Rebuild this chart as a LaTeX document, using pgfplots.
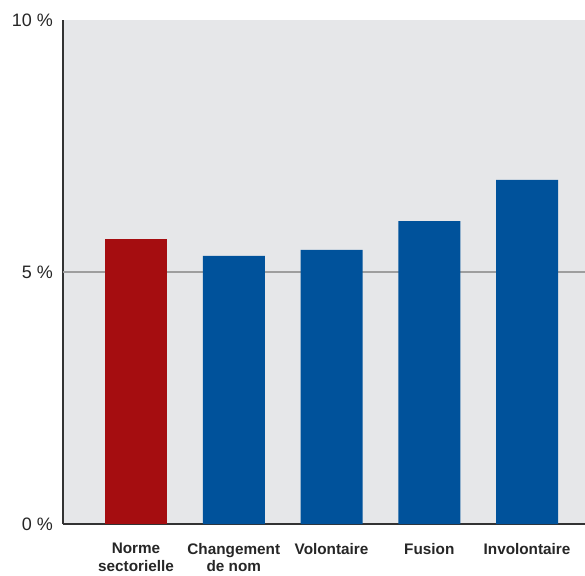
\documentclass[border=0pt]{standalone}
\usepackage{pgfplots}
\pgfplotsset{compat=1.18}
\usepackage{fontspec}
\setmainfont{Liberation Sans}
\definecolor{bg}{HTML}{E6E7E9}
\definecolor{barred}{HTML}{A50D10}
\definecolor{barblue}{HTML}{00529B}
\begin{document}
\begin{tikzpicture}
\begin{axis}[
  scale only axis, width=522pt, height=504pt,
  xmin=-0.747, xmax=4.593, ymin=0, ymax=10,
  axis background/.style={fill=bg},
  axis x line*=bottom, axis y line*=left,
  axis line style={draw=black!80, line width=1.5pt},
  ytick={0,5,10}, yticklabels={0 \%,5 \%,10 \%},
  extra y ticks={5}, extra y tick labels={},
  extra y tick style={grid=major, grid style={draw=black!38, line width=1.3pt}},
  major tick length=0pt,
  xtick={0,1,2,3,4},
  xticklabels={{Norme\\sectorielle},{Changement\\de nom},{Volontaire},{Fusion},{Involontaire}},
  xticklabel style={font=\bfseries\fontsize{15.3}{17.5}\selectfont, align=center, anchor=north, yshift=-15.5pt, text=black!85},
  yticklabel style={font=\fontsize{18}{20}\selectfont, inner sep=0pt, xshift=-10pt, text=black!85},
  /pgf/number format/assume math mode=true,
]
\addplot[ybar, bar width=62pt, bar shift=0pt, fill=barred, draw=none] coordinates {(0,5.65)};
\addplot[ybar, bar width=62pt, bar shift=0pt, fill=barblue, draw=none] coordinates {(1,5.32) (2,5.44) (3,6.01) (4,6.83)};
\end{axis}
\pgfresetboundingbox
\path[use as bounding box] (-63pt,-51pt) rectangle (522pt,524pt);
\end{tikzpicture}
\end{document}
